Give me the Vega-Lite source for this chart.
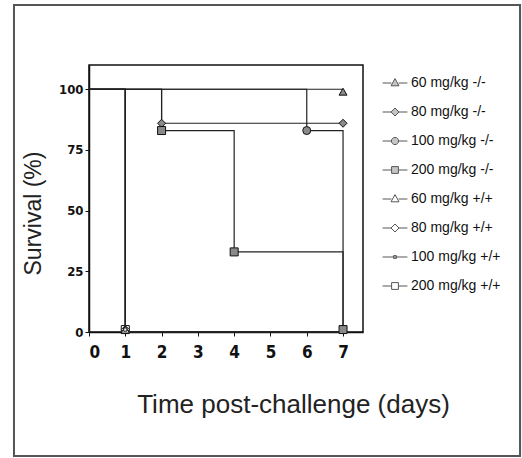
{
  "$schema": "https://vega.github.io/schema/vega-lite/v6.json",
  "width": 274,
  "height": 267,
  "autosize": {"type": "none"},
  "padding": {"left": 89, "top": 65, "right": 159, "bottom": 126},
  "background": "white",
  "config": {
    "view": {"stroke": "#111", "strokeWidth": 1.5},
    "axis": {"grid": false, "domainColor": "#111", "domainWidth": 1.5, "tickColor": "#111", "labelColor": "#111", "titleColor": "#222"}
  },
  "datasets": {
    "frame": [{"name": "border"}],
    "lines": [
      {"group": "60 mg/kg -/-", "day": 0, "survival": 100},
      {"group": "60 mg/kg -/-", "day": 7, "survival": 100},
      {"group": "80 mg/kg -/-", "day": 0, "survival": 100},
      {"group": "80 mg/kg -/-", "day": 2, "survival": 86},
      {"group": "80 mg/kg -/-", "day": 7, "survival": 86},
      {"group": "100 mg/kg -/-", "day": 0, "survival": 100},
      {"group": "100 mg/kg -/-", "day": 6, "survival": 83},
      {"group": "100 mg/kg -/-", "day": 7, "survival": 0},
      {"group": "200 mg/kg -/-", "day": 0, "survival": 100},
      {"group": "200 mg/kg -/-", "day": 2, "survival": 83},
      {"group": "200 mg/kg -/-", "day": 4, "survival": 33},
      {"group": "200 mg/kg -/-", "day": 7, "survival": 0},
      {"group": "60 mg/kg +/+", "day": 0, "survival": 100},
      {"group": "60 mg/kg +/+", "day": 1, "survival": 0},
      {"group": "60 mg/kg +/+", "day": 7, "survival": 0},
      {"group": "80 mg/kg +/+", "day": 0, "survival": 100},
      {"group": "80 mg/kg +/+", "day": 1, "survival": 0},
      {"group": "80 mg/kg +/+", "day": 7, "survival": 0},
      {"group": "100 mg/kg +/+", "day": 0, "survival": 100},
      {"group": "100 mg/kg +/+", "day": 1, "survival": 0},
      {"group": "100 mg/kg +/+", "day": 7, "survival": 0},
      {"group": "200 mg/kg +/+", "day": 0, "survival": 100},
      {"group": "200 mg/kg +/+", "day": 1, "survival": 0},
      {"group": "200 mg/kg +/+", "day": 7, "survival": 0}
    ],
    "markers": [
      {"group": "60 mg/kg -/-", "geno": "-/-", "day": 7, "survival": 99},
      {"group": "80 mg/kg -/-", "geno": "-/-", "day": 2, "survival": 86},
      {"group": "80 mg/kg -/-", "geno": "-/-", "day": 7, "survival": 86},
      {"group": "100 mg/kg -/-", "geno": "-/-", "day": 6, "survival": 83},
      {"group": "200 mg/kg -/-", "geno": "-/-", "day": 2, "survival": 83},
      {"group": "200 mg/kg -/-", "geno": "-/-", "day": 4, "survival": 33},
      {"group": "200 mg/kg -/-", "geno": "-/-", "day": 7, "survival": 1},
      {"group": "200 mg/kg +/+", "geno": "+/+", "day": 1, "survival": 1},
      {"group": "80 mg/kg +/+", "geno": "+/+", "day": 1, "survival": 1},
      {"group": "60 mg/kg +/+", "geno": "+/+", "day": 1, "survival": 1},
      {"group": "100 mg/kg +/+", "geno": "+/+", "day": 1, "survival": 1}
    ]
  },
  "layer": [
    {
      "data": {"name": "lines"},
      "mark": {"type": "line", "interpolate": "step-after", "stroke": "#222", "strokeWidth": 1.2},
      "encoding": {
        "x": {
          "field": "day", "type": "quantitative",
          "scale": {"domain": [0, 7.55], "nice": false, "zero": false},
          "axis": {
            "values": [0, 1, 2, 3, 4, 5, 6, 7], "tickCount": 8, "labelOverlap": false,
            "tickSize": 4, "labelPadding": 8,
            "labelFont": "DejaVu Sans Condensed, Liberation Sans", "labelFontWeight": "bold", "labelFontSize": 17,
            "title": "Time post-challenge (days)",
            "titleFont": "Liberation Sans", "titleFontWeight": "normal", "titleFontSize": 26,
            "titleX": 204, "titleY": 80, "titleBaseline": "alphabetic", "titleAlign": "center"
          }
        },
        "y": {
          "field": "survival", "type": "quantitative",
          "scale": {"domain": [0, 110], "nice": false},
          "axis": {
            "values": [0, 25, 50, 75, 100], "labelOverlap": false,
            "tickSize": 4, "labelPadding": 2,
            "labelFont": "DejaVu Sans Condensed, Liberation Sans", "labelFontWeight": "bold", "labelFontSize": 13,
            "title": "Survival (%)",
            "titleFont": "Liberation Sans", "titleFontWeight": "normal", "titleFontSize": 23,
            "titleAngle": 270, "titleX": -56, "titleY": 148, "titleBaseline": "middle", "titleAlign": "center"
          }
        },
        "detail": {"field": "group"}
      }
    },
    {
      "data": {"name": "markers"},
      "mark": {"type": "point", "filled": true, "stroke": "#111", "strokeWidth": 1, "size": 64, "opacity": 1},
      "encoding": {
        "x": {"field": "day", "type": "quantitative"},
        "y": {"field": "survival", "type": "quantitative"},
        "shape": {
          "field": "group", "type": "nominal",
          "scale": {
            "domain": ["60 mg/kg -/-", "80 mg/kg -/-", "100 mg/kg -/-", "200 mg/kg -/-", "60 mg/kg +/+", "80 mg/kg +/+", "100 mg/kg +/+", "200 mg/kg +/+"],
            "range": ["triangle-up", "diamond", "circle", "square", "triangle-up", "diamond", "M-0.4,-0.4H0.4V0.4H-0.4Z", "square"]
          },
          "legend": null
        },
        "fill": {
          "field": "geno", "type": "nominal",
          "scale": {"domain": ["-/-", "+/+"], "range": ["#8a8a8a", "#ffffff"]},
          "legend": null
        }
      }
    },
    {
      "data": {"name": "markers"},
      "transform": [{"filter": "false"}],
      "mark": {"type": "point", "filled": true, "strokeWidth": 1, "size": 64},
      "encoding": {
        "shape": {
          "field": "group", "type": "nominal",
          "scale": {
            "domain": ["60 mg/kg -/-", "80 mg/kg -/-", "100 mg/kg -/-", "200 mg/kg -/-", "60 mg/kg +/+", "80 mg/kg +/+", "100 mg/kg +/+", "200 mg/kg +/+"],
            "range": [
              "M-3.1,0H-0.9M0.9,0H3.1M0,-1.1L1,0.7L-1,0.7Z",
              "M-3.1,0H-1M1,0H3.1M0,-1L1,0L0,1L-1,0Z",
              "M-3.1,0H-0.9M0.9,0H3.1M-0.9,0A0.9,0.9,0,1,0,0.9,0A0.9,0.9,0,1,0,-0.9,0Z",
              "M-3.1,0H-0.85M0.85,0H3.1M-0.85,-0.85H0.85V0.85H-0.85Z",
              "M-3.1,0H-0.9M0.9,0H3.1M0,-1.1L1,0.7L-1,0.7Z",
              "M-3.1,0H-1M1,0H3.1M0,-1L1,0L0,1L-1,0Z",
              "M-3.1,0H3.1M-0.35,-0.35H0.35V0.35H-0.35Z",
              "M-3.1,0H-0.85M0.85,0H3.1M-0.85,-0.85H0.85V0.85H-0.85Z"
            ]
          },
          "legend": {
            "title": null, "orient": "none", "legendX": 299, "legendY": 11,
            "padding": 0, "symbolSize": 64, "symbolStrokeWidth": 1,
            "labelOffset": 9, "labelFont": "Liberation Sans", "labelFontSize": 14, "labelColor": "#111",
            "rowPadding": 15, "labelLimit": 200
          }
        },
        "fill": {
          "field": "group", "type": "nominal",
          "scale": {
            "domain": ["60 mg/kg -/-", "80 mg/kg -/-", "100 mg/kg -/-", "200 mg/kg -/-", "60 mg/kg +/+", "80 mg/kg +/+", "100 mg/kg +/+", "200 mg/kg +/+"],
            "range": ["#8a8a8a", "#8a8a8a", "#8a8a8a", "#8a8a8a", "#ffffff", "#ffffff", "#ffffff", "#ffffff"]
          },
          "legend": {
            "title": null, "orient": "none", "legendX": 299, "legendY": 11,
            "padding": 0, "symbolSize": 64, "symbolStrokeWidth": 1,
            "labelOffset": 9, "labelFont": "Liberation Sans", "labelFontSize": 14, "labelColor": "#111",
            "rowPadding": 15, "labelLimit": 200
          }
        },
        "stroke": {
          "field": "group", "type": "nominal",
          "scale": {
            "domain": ["60 mg/kg -/-", "80 mg/kg -/-", "100 mg/kg -/-", "200 mg/kg -/-", "60 mg/kg +/+", "80 mg/kg +/+", "100 mg/kg +/+", "200 mg/kg +/+"],
            "range": ["#111111", "#111111", "#111111", "#111111", "#111111", "#111111", "#111111", "#111111"]
          },
          "legend": {
            "title": null, "orient": "none", "legendX": 299, "legendY": 11,
            "padding": 0, "symbolSize": 64, "symbolStrokeWidth": 1,
            "labelOffset": 9, "labelFont": "Liberation Sans", "labelFontSize": 14, "labelColor": "#111",
            "rowPadding": 15, "labelLimit": 200
          }
        }
      }
    },
    {
      "data": {"name": "frame"},
      "mark": {"type": "rect", "filled": false, "stroke": "#555", "strokeWidth": 2},
      "encoding": {
        "x": {"datum": -2.067, "type": "quantitative", "axis": {"values": [0, 1, 2, 3, 4, 5, 6, 7], "tickCount": 8, "labelOverlap": false}},
        "x2": {"datum": 11.877},
        "y": {"datum": 134.7, "type": "quantitative"},
        "y2": {"datum": -51.1}
      }
    }
  ],
  "resolve": {"scale": {"shape": "independent", "fill": "independent", "stroke": "independent"}}
}
